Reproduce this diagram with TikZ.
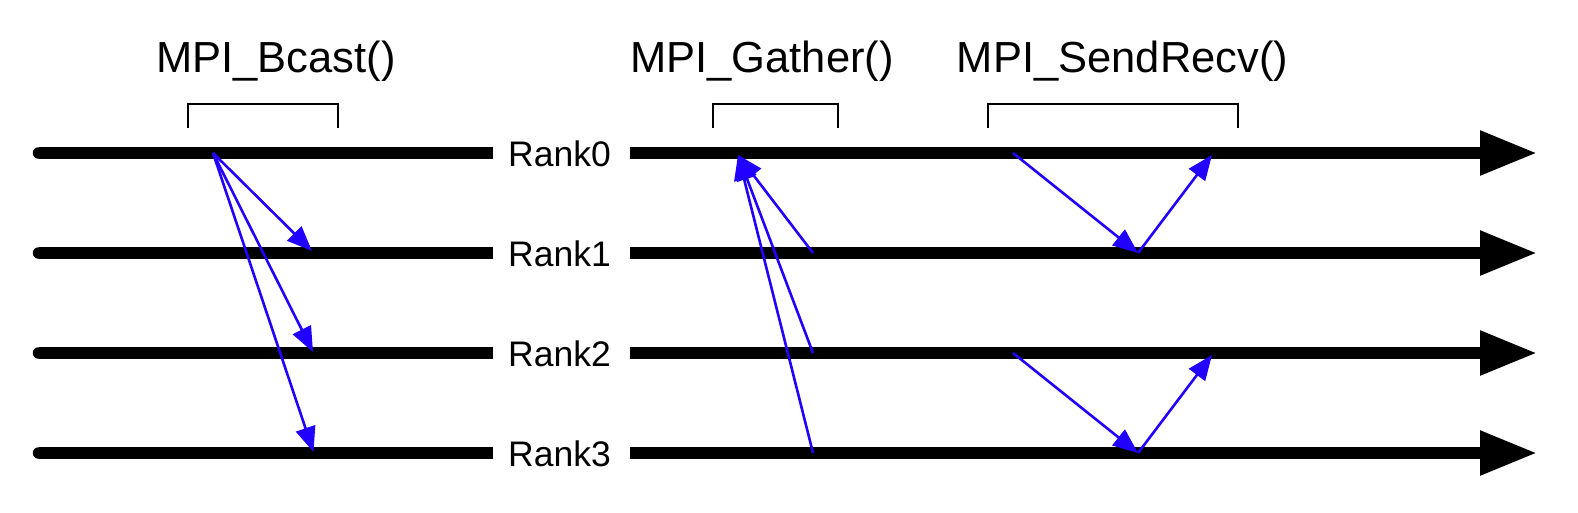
\documentclass[tikz,border=0pt]{standalone}
\usepackage{fontspec}
\setmainfont{Liberation Sans}
\usetikzlibrary{arrows.meta}
\definecolor{msgblue}{RGB}{34,0,255}
\begin{document}
\begin{tikzpicture}[x=1pt,y=-1pt,
  timeline/.style={line width=11.5pt,black},
  ranklabel/.style={inner sep=0pt,anchor=base,font=\fontsize{35.5}{40}\selectfont},
  calltitle/.style={inner sep=0pt,anchor=base,font=\fontsize{43.5}{50}\selectfont},
  bracketline/.style={line width=2.3pt,black,line join=miter},
  msg/.style={line width=2.6pt,msgblue,-{Triangle[length=25pt,width=20pt]}}]
\useasboundingbox (0,0) rectangle (1578,512);
% titles
\node[calltitle] (tb) at (276,72.7) {MPI\_Bcast()};
\node[calltitle] (tg) at (762,72.7) {MPI\_Gather()};
\node[calltitle] (ts) at (1122.5,72.7) {MPI\_SendRecv()};
% brackets
\draw[bracketline] (188,128) -- (188,104) -- (338,104) -- (338,128);
\draw[bracketline] (713,128) -- (713,104) -- (838,104) -- (838,128);
\draw[bracketline] (988,128) -- (988,104) -- (1238,104) -- (1238,128);
% timelines
\foreach \i in {0,1,2,3}{
  \pgfmathsetmacro{\yy}{153+100*\i}
  \coordinate (ls\i) at (38.5,\yy);
  \coordinate (le\i) at (1537,\yy);
  \node[ranklabel] (r\i) at (559.5,\yy+13) {Rank\i};
  \fill (ls\i) circle (5.75pt);
  \draw[timeline] (ls\i) -- ([xshift=-15pt]r\i.west |- ls\i);
  \draw[timeline,-{Triangle[length=57pt,width=42pt]}] ([xshift=19pt]r\i.east |- ls\i) -- (le\i);
}
% Bcast
\coordinate (b0) at (213,153);
\coordinate (b1) at (312,251);
\coordinate (b2) at (313,352);
\coordinate (b3) at (313.5,452);
\draw[msg] (b0) -- (b1);
\draw[msg] (b0) -- (b2);
\draw[msg] (b0) -- (b3);
% Gather
\coordinate (g0) at (738,155);
\coordinate (g1) at (813,253);
\coordinate (g2) at (813,353);
\coordinate (g3) at (813,453);
\draw[msg] (g1) -- (g0);
\draw[msg] (g2) -- (g0);
\draw[msg] (g3) -- (g0);
% SendRecv
\coordinate (s0) at (1013,153);
\coordinate (s1) at (1138,253);
\coordinate (s2) at (1212,155);
\coordinate (s3) at (1013,353);
\coordinate (s4) at (1138,453);
\coordinate (s5) at (1212,355);
\draw[msg] (s0) -- (s1);
\draw[msg] (s1) -- (s2);
\draw[msg] (s3) -- (s4);
\draw[msg] (s4) -- (s5);
\end{tikzpicture}
\end{document}
